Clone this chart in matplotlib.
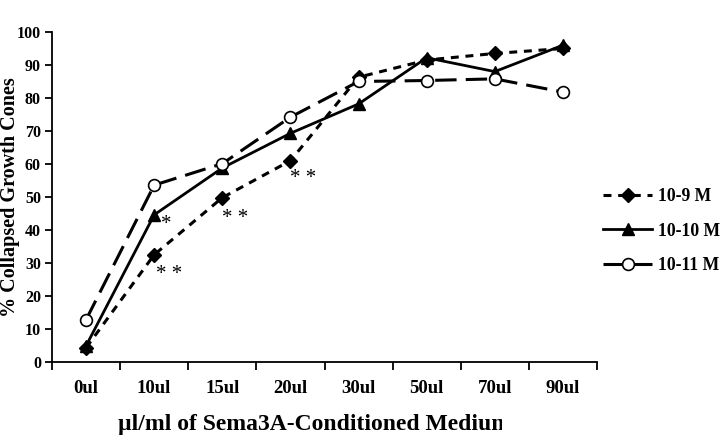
import numpy as np
import matplotlib
matplotlib.use('Agg')
import matplotlib.pyplot as plt
from matplotlib.patches import Rectangle

# doses on the x axis
doses = ['0ul', '10ul', '15ul', '20ul', '30ul', '50ul', '70ul', '90ul']
# % collapsed growth cones
sema_9 = [4.3, 32.5, 49.8, 61.0, 86.3, 91.5, 93.5, 95.0]
sema_10 = [4.9, 44.6, 58.8, 69.3, 78.2, 92.2, 88.0, 96.0]
sema_11 = [12.8, 53.6, 60.1, 74.2, 85.0, 85.3, 85.8, 81.8]
# significance marks: (label, x index, y value)
stars = [('*', 1.17, 41.8), ('* *', 1.22, 26.4), ('* *', 2.19, 43.6), ('* *', 3.19, 55.5)]

plt.rcParams['font.family'] = ['Liberation Serif', 'DejaVu Serif']
plt.rcParams['font.weight'] = 'bold'

fig = plt.figure(figsize=(7.2, 4.36), dpi=100)
ax = fig.add_axes([52/720, 1-362/436, 545/720, 330/436])

x = np.arange(len(doses))
ax.plot(x, sema_9, color='black', lw=2.2, ls=(0, (2.6, 2.2)), marker='D', ms=7,
        mfc='black', mec='black', label='10-9 M')
ax.plot(x, sema_10, color='black', lw=2.0, ls='-', marker='^', ms=9,
        mfc='black', mec='black', label='10-10 M')
ax.plot(x, sema_11, color='black', lw=2.2, ls=(0, (7, 3)), marker='o', ms=8.5,
        mfc='white', mec='black', mew=1.2, label='10-11 M')

for s, sx, sy in stars:
    ax.text(sx, sy, s, fontsize=15, ha='center', va='center', fontweight='normal')

ax.set_xlim(-0.5, len(doses)-0.5)
ax.set_ylim(0, 100)
ax.set_yticks(np.arange(0, 101, 10))
ax.set_xticks(x)
ax.set_xticklabels(doses)
ax.set_xticks(np.arange(-0.5, len(doses)), minor=True)
ax.tick_params(axis='x', which='major', length=0, pad=13, labelsize=13.5)
ax.tick_params(axis='x', which='minor', length=6, width=1.3, direction='out')
ax.tick_params(axis='y', length=5, width=1.3, direction='out', pad=3, labelsize=11.5)
for lab in ax.get_xticklabels() + ax.get_yticklabels():
    lab.set_fontweight('bold')

ax.spines['top'].set_visible(False)
ax.spines['right'].set_visible(False)
ax.spines['left'].set_linewidth(1.3)
ax.spines['bottom'].set_linewidth(1.3)

ax.set_ylabel('% Collapsed Growth Cones', fontsize=14.5, fontweight='bold')
ax.yaxis.set_label_coords(-0.058, 0.5)

xl = fig.text(118/720, 1-430/436, 'µl/ml of Sema3A-Conditioned Medium',
              fontsize=17, fontweight='bold', ha='left', va='baseline')
xl.set_clip_on(True)
xl.set_clip_path(Rectangle((0, 0), 502/720, 1, transform=fig.transFigure))

ax.legend(loc='center left', bbox_to_anchor=(603/720, 1-231/436),
          bbox_transform=fig.transFigure, frameon=False,
          handlelength=2.8, handletextpad=0.3, labelspacing=1.0,
          borderpad=0, borderaxespad=0, prop={'weight': 'bold', 'size': 12.7})

fig.savefig('out.png', dpi=100)
